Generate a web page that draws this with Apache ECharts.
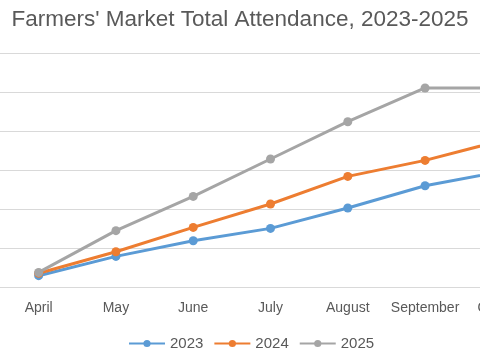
<!DOCTYPE html>
<html>
<head>
<meta charset="utf-8">
<script src="https://cdn.jsdelivr.net/npm/echarts@6/dist/echarts.min.js"></script>
<style>
html,body{margin:0;padding:0;background:#fff;}
#chart{width:480px;height:360px;}
</style>
</head>
<body>
<div id="chart"></div>
<script>
const months = ['April', 'May', 'June', 'July', 'August', 'September', 'October'];
const attendance2023 = [290, 785, 1187, 1503, 2026, 2597, 2967];
const attendance2024 = [354, 905, 1528, 2128, 2836, 3246, 3762];
const attendance2025 = [374, 1444, 2323, 3282, 4238, 5103, 5103];
const seriesNames = ['2023', '2024', '2025'];
const titleText = "Farmers' Market Total Attendance, 2023-2025";

const colors = ['#5B9BD5', '#ED7D31', '#A5A5A5'];
const font = 'Liberation Sans';
const chart = echarts.init(document.getElementById('chart'), null, {renderer: 'canvas'});
const mk = (name, data, i) => ({
  name: name,
  type: 'line',
  data: data,
  symbol: 'circle',
  symbolSize: 9,
  lineStyle: {width: 3, color: colors[i]},
  itemStyle: {color: colors[i]},
  emphasis: {disabled: true},
  animation: false
});
chart.setOption({
  animation: false,
  title: {
    text: titleText,
    left: 'center',
    top: 3,
    textStyle: {fontFamily: font, fontSize: 22.5, fontWeight: 'normal', color: '#595959'}
  },
  legend: {
    bottom: 4,
    left: 123,
    itemWidth: 36,
    itemHeight: 9,
    itemGap: 10,
    textStyle: {fontFamily: font, fontSize: 15, color: '#595959'},
    data: seriesNames
  },
  grid: {left: 0, right: -61, top: 53, bottom: 73, containLabel: false, outerBoundsMode: 'none'},
  xAxis: {
    type: 'category',
    data: months,
    boundaryGap: true,
    axisLine: {lineStyle: {color: '#D9D9D9', width: 1}},
    axisTick: {show: false},
    axisLabel: {interval: 0, fontFamily: font, fontSize: 14, color: '#595959', margin: 14}
  },
  yAxis: {
    type: 'value',
    min: 0,
    max: 6000,
    interval: 1000,
    axisLabel: {show: false},
    axisLine: {show: false},
    axisTick: {show: false},
    splitLine: {lineStyle: {color: '#D9D9D9', width: 1}}
  },
  series: [
    mk(seriesNames[0], attendance2023, 0),
    mk(seriesNames[1], attendance2024, 1),
    mk(seriesNames[2], attendance2025, 2)
  ]
});
</script>
</body>
</html>
